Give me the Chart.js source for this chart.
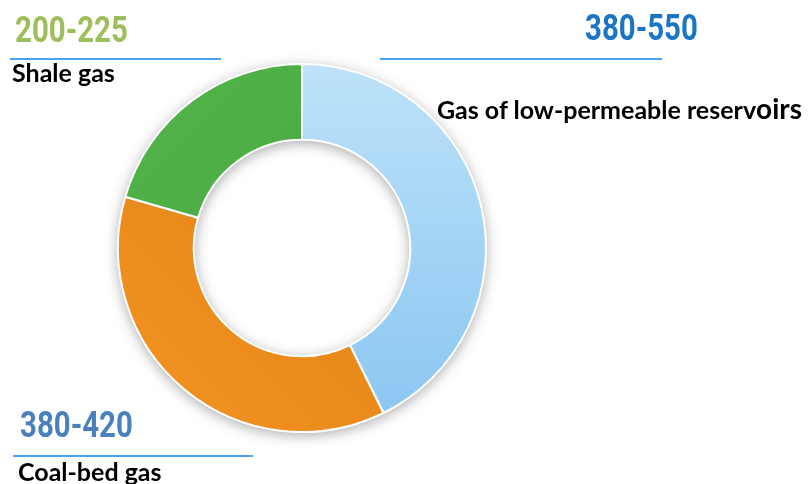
<!DOCTYPE html>
<html>
<head>
<meta charset="utf-8">
<script src="https://cdn.jsdelivr.net/npm/chart.js@4.4.1/dist/chart.umd.min.js"></script>
<style>
  html, body { margin: 0; padding: 0; background: #fff; }
  #wrap { position: relative; width: 808px; height: 484px; overflow: hidden; }
  canvas { position: absolute; left: 0; top: 0; }
  .range { position: absolute; font-family: Roboto, "Liberation Sans", sans-serif; font-weight: bold; font-size: 37px; line-height: 37px; white-space: nowrap; transform: scaleX(0.795); transform-origin: 0 0; }
  .name { position: absolute; font-family: Lato, "Open Sans", sans-serif; font-weight: bold; font-size: 25px; line-height: 25px; color: #000; white-space: nowrap; }
  .rule { position: absolute; height: 2px; background: #4aa3f2; }
  .big { font-size: 28px; }
</style>
</head>
<body>
<div id="wrap">
  <canvas id="c" width="808" height="484"></canvas>
</div>
<script>
// ---- data ----
const categories = ['Gas of low-permeable reservoirs', 'Coal-bed gas', 'Shale gas'];
const shares = [42.7, 36.8, 20.5];
const rangeLabels = ['380-550', '380-420', '200-225'];
const rangeColors = ['#1c75c4', '#4b80bf', '#9cbf5c'];

// ---- label layout (styles/positions only) ----
const labelLayout = [
  { rx: 585, ry: 9,   nx: 437, ny: 96,  line: [380, 58, 282] },
  { rx: 20,  ry: 406, nx: 18,  ny: 459, line: [13, 455, 240] },
  { rx: 15,  ry: 11,  nx: 12,  ny: 60,  line: [10, 58, 211] }
];

const wrap = document.getElementById('wrap');
categories.forEach((cat, i) => {
  const L = labelLayout[i];
  const r = document.createElement('div');
  r.className = 'range';
  r.style.left = L.rx + 'px'; r.style.top = L.ry + 'px';
  r.style.color = rangeColors[i];
  r.textContent = rangeLabels[i];
  wrap.appendChild(r);
  const ln = document.createElement('div');
  ln.className = 'rule';
  ln.style.left = L.line[0] + 'px'; ln.style.top = L.line[1] + 'px'; ln.style.width = L.line[2] + 'px';
  wrap.appendChild(ln);
  const n = document.createElement('div');
  n.className = 'name';
  n.style.left = L.nx + 'px'; n.style.top = L.ny + 'px';
  if (i === 0) {
    n.innerHTML = cat.slice(0, cat.length - 4) + '<span class="big">' + cat.slice(-4) + '</span>';
  } else {
    n.textContent = cat;
  }
  wrap.appendChild(n);
});

const gradStops = [
  ['#bde2f9', '#89c5f1'],
  ['#dc7a15', '#f29421'],
  ['#51b44a', '#45a23f']
];

function sliceFill(context) {
  const chart = context.chart;
  const a = chart.chartArea;
  if (!a) return gradStops[context.dataIndex][0];
  const i = context.dataIndex;
  let g;
  if (i === 1) g = chart.ctx.createLinearGradient(a.right, a.top, a.left, a.bottom);
  else if (i === 2) g = chart.ctx.createLinearGradient(a.left, a.top, a.right, a.bottom);
  else g = chart.ctx.createLinearGradient(0, a.top, 0, a.bottom);
  g.addColorStop(0, gradStops[i][0]);
  g.addColorStop(1, gradStops[i][1]);
  return g;
}

const ringShadow = {
  id: 'ringShadow',
  beforeDatasetsDraw(chart) {
    const meta = chart.getDatasetMeta(0);
    const el = meta.data[0];
    if (!el) return;
    const ctx = chart.ctx;
    const { x, y, outerRadius, innerRadius } = el.getProps(['x', 'y', 'outerRadius', 'innerRadius'], true);
    ctx.save();
    ctx.beginPath();
    ctx.arc(x, y, outerRadius, 0, Math.PI * 2);
    ctx.arc(x, y, innerRadius, 0, Math.PI * 2, true);
    ctx.closePath();
    ctx.shadowColor = 'rgba(0,0,0,0.35)';
    ctx.shadowBlur = 14;
    ctx.shadowOffsetX = 0;
    ctx.shadowOffsetY = 3;
    ctx.fillStyle = '#ffffff';
    ctx.fill();
    ctx.restore();
  }
};

new Chart(document.getElementById('c'), {
  type: 'doughnut',
  data: {
    labels: categories,
    datasets: [{
      data: shares,
      backgroundColor: sliceFill,
      borderColor: '#ffffff',
      borderWidth: 2,
      hoverOffset: 0
    }]
  },
  options: {
    responsive: false,
    animation: false,
    cutout: '58.8%',
    rotation: 0,
    layout: { padding: { left: 117, top: 63, right: 321, bottom: 51 } },
    plugins: { legend: { display: false }, tooltip: { enabled: false } }
  },
  plugins: [ringShadow]
});
</script>
</body>
</html>
